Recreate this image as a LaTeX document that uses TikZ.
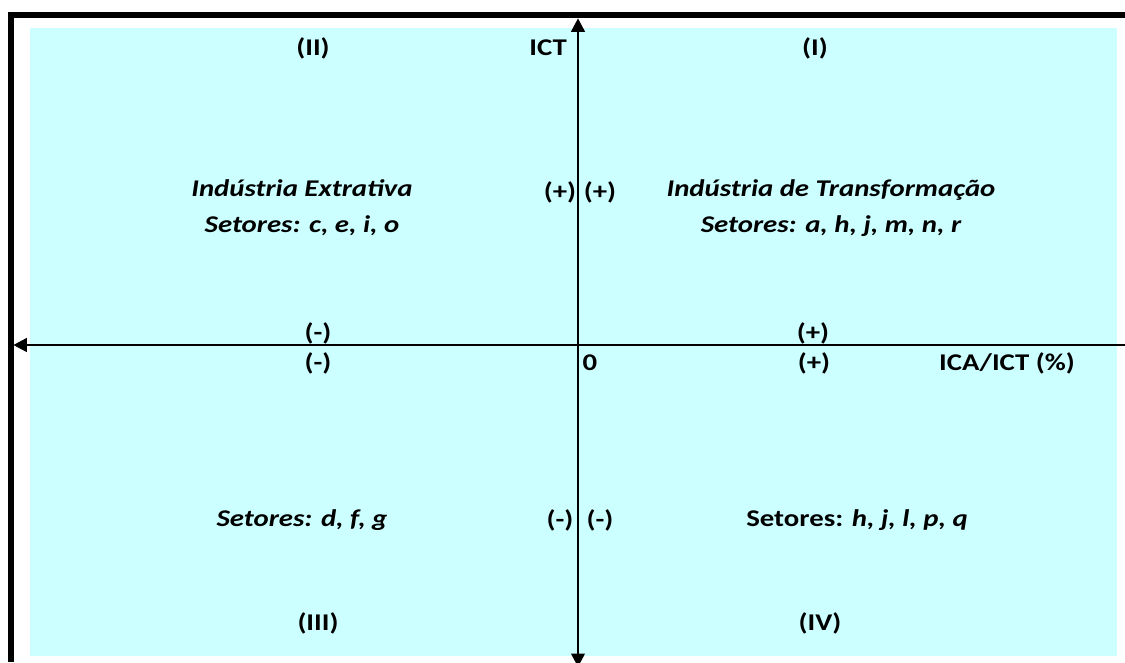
\documentclass[tikz,border=0pt]{standalone}
\usepackage{fontspec}
\setmainfont{Carlito}[FakeStretch=1.2]
\usetikzlibrary{arrows.meta}
\definecolor{fundo}{HTML}{CCFFFF}

\begin{document}
\begin{tikzpicture}[
	x=1pt, y=-1pt,
	font=\fontsize{24}{29}\selectfont\bfseries,
	lbl/.style={inner sep=0pt},
	setor/.style={inner sep=0pt, align=center, font=\fontsize{24}{36}\selectfont\bfseries\itshape},
	moldura/.style={line width=5.8pt, line join=miter},
	seta/.style={line width=2.6pt, {Triangle[length=13.5pt, width=13.5pt]}-{Triangle[length=13.5pt, width=13.5pt]}},
	eixo/.style={line width=2.6pt, {Triangle[length=13.5pt, width=13.5pt]}-}
]
\useasboundingbox (0,0) rectangle (1125,662);

% fundo e moldura
\fill[fundo] (30,28) rectangle (1117,656);
\draw[moldura] (11,662) -- (11,15.3) -- (1125,15.3);

% eixos
\coordinate (topo) at (578,18.3);
\coordinate (base) at (578,667);
\coordinate (esq) at (13.3,345);
\coordinate (dir) at (1125,345);
\draw[seta] (base) -- (topo);
\draw[eixo] (esq) -- (dir);

% quadrantes
\node[lbl] (q2) at (313,48) {(II)};
\node[lbl, anchor=east] (ict) at (567,48) {ICT};
\node[lbl] (q1) at (815,48) {(I)};
\node[lbl] (q3) at (318,623) {(III)};
\node[lbl] (q4) at (820,623) {(IV)};

% setores
\node[setor] (extr) at (302,208) {Indústria Extrativa\\Setores: c, e, i, o};
\node[setor] (transf) at (831,208) {Indústria de Transformação\\Setores: a, h, j, m, n, r};
\node[setor] (s3) at (302,520) {Setores: d, f, g};
\node[lbl] (s4) at (857,520) {Setores: \textit{h, j, l, p, q}};

% sinais
\node[lbl] (mm1) at (560,192) {(+)};
\node[lbl] (mm2) at (600,192) {(+)};
\node[lbl] (mn1) at (560,520) {(-)};
\node[lbl] (mn2) at (600,520) {(-)};
\node[lbl] (sa1) at (318,333) {(-)};
\node[lbl] (sa2) at (813,333) {(+)};
\node[lbl] (sb1) at (318,363) {(-)};
\node[lbl] (zero) at (590,363) {0};
\node[lbl] (sb2) at (814,363) {(+)};
\node[lbl] (ica) at (1007,363) {ICA/ICT (\%)};
\end{tikzpicture}
\end{document}
